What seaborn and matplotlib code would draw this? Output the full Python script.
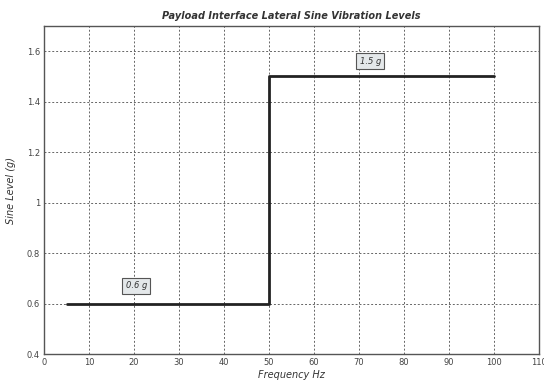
import matplotlib.pyplot as plt
import seaborn as sns
import pandas as pd

# step profile of the sine level
freq = [5, 50, 50, 100]
level = [0.6, 0.6, 1.5, 1.5]

labels = ["0.6 g", "1.5 g"]
label_x = [20.5, 72.5]
label_y = [0.67, 1.56]

xticks = list(range(0, 111, 10))
yticks = [0.4, 0.6, 0.8, 1.0, 1.2, 1.4, 1.6]
ytick_labels = ["0.4", "0.6", "0.8", "1", "1.2", "1.4", "1.6"]

sns.set_style("ticks")
plt.rcParams['font.family'] = ['DejaVu Sans']

fig = plt.figure(figsize=(5.44, 3.8), dpi=100)
ax = fig.add_axes([0.081, 0.068, 0.91, 0.864])

df = pd.DataFrame({"Frequency": freq, "Level": level})
sns.lineplot(data=df, x="Frequency", y="Level", sort=False, estimator=None,
             color="#222222", linewidth=2, ax=ax)

for txt, x, y in zip(labels, label_x, label_y):
    ax.text(x, y, txt, fontsize=6, style="italic", ha="center", va="center", color="#333333",
            bbox=dict(boxstyle="square,pad=0.4", facecolor="#e4e8ea", edgecolor="#555555", linewidth=0.8))

ax.set_xlim(0, 110)
ax.set_ylim(0.4, 1.7)
ax.set_xticks(xticks)
ax.set_yticks(yticks)
ax.set_yticklabels(ytick_labels)
ax.tick_params(labelsize=6, colors="#444444", length=0, pad=3)
ax.grid(True, linestyle=(0, (2, 2)), color="#666666", linewidth=0.7)
for s in ax.spines.values():
    s.set_color("#555555")
    s.set_linewidth(1)

ax.set_xlabel("Frequency Hz", fontsize=7, style="italic", color="#333333", labelpad=2)
ax.set_ylabel("Sine Level (g)", fontsize=7, style="italic", color="#333333", labelpad=8)
ax.set_title("Payload Interface Lateral Sine Vibration Levels", fontsize=7, style="italic",
             fontweight="bold", color="#333333", pad=5)

plt.savefig("out.png", dpi=100)
